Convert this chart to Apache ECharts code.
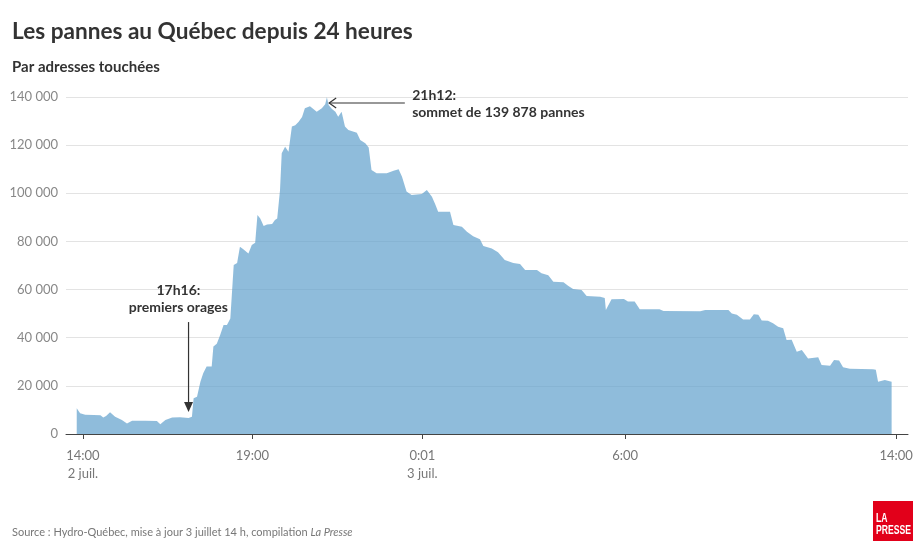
<!DOCTYPE html>
<html><head><meta charset="utf-8">
<script src="https://cdn.jsdelivr.net/npm/echarts@6/dist/echarts.min.js"></script>
<style>html,body{margin:0;padding:0;background:#fff}#c{width:924px;height:552px}</style>
</head><body><div id="c"></div>
<script>
// Time stamps: "day HH:MM" (July 2 / July 3)
const times = [
'2 13:49','2 13:55','2 14:04','2 14:19','2 14:31','2 14:36','2 14:41','2 14:48','2 14:57','2 15:09',
'2 15:18','2 15:27','2 15:50','2 16:11','2 16:17','2 16:26','2 16:38','2 16:52','2 17:07','2 17:13',
'2 17:16','2 17:22','2 17:28','2 17:33','2 17:39','2 17:48','2 17:51','2 17:57','2 18:03','2 18:09',
'2 18:15','2 18:21','2 18:27','2 18:33','2 18:38','2 18:44','2 18:53','2 18:59','2 19:05','2 19:09',
'2 19:14','2 19:20','2 19:26','2 19:35','2 19:40','2 19:44','2 19:49','2 19:52','2 19:58','2 20:04',
'2 20:10','2 20:16','2 20:22','2 20:28','2 20:33','2 20:42','2 20:48','2 20:54','2 21:03','2 21:09',
'2 21:12','2 21:15','2 21:21','2 21:27','2 21:32','2 21:38','2 21:44','2 21:50','2 22:05','2 22:11',
'2 22:20','2 22:26','2 22:31','2 22:40','2 22:58','2 23:10','2 23:19','2 23:25','2 23:33','2 23:42',
'3 00:00','3 00:09','3 00:18','3 00:24','3 00:29','3 00:50','3 00:56','3 01:11','3 01:20','3 01:31',
'3 01:43','3 01:49','3 02:04','3 02:15','3 02:27','3 02:42','3 02:54','3 03:03','3 03:24','3 03:32',
'3 03:44','3 03:53','3 04:11','3 04:19','3 04:28','3 04:43','3 04:52','3 05:16','3 05:24','3 05:26',
'3 05:36','3 05:58','3 06:05','3 06:17','3 06:26','3 07:01','3 07:08','3 08:13','3 08:22','3 09:03',
'3 09:09','3 09:18','3 09:29','3 09:41','3 09:48','3 09:56','3 10:02','3 10:13','3 10:22','3 10:31',
'3 10:40','3 10:46','3 10:55','3 11:04','3 11:13','3 11:24','3 11:42','3 11:48','3 12:03','3 12:10',
'3 12:19','3 12:26','3 12:38','3 13:19','3 13:24','3 13:28','3 13:40','3 13:52'
];
const outages = [
10700,8600,8000,7900,7800,6900,7500,9000,7200,5800,
4400,5500,5500,5400,4000,5800,6900,7000,6600,7200,
14800,15500,21700,25200,28000,28000,36300,37500,41100,45300,
45300,48000,70200,71000,77800,76800,75000,78500,79500,91000,
89500,86400,87000,87200,88900,89500,101400,116600,119300,117300,
127700,128300,129700,131700,135300,136200,135000,133900,135300,137000,
139878,136700,135000,133900,131800,133900,127700,126300,125200,122100,
120800,119000,109700,108300,108300,109400,110000,106900,100700,99300,
99700,101400,98600,95300,92300,92300,86800,86100,84000,82200,
80900,78100,77100,75500,72300,71000,70600,68100,68100,66800,
66000,63300,63000,61600,60200,59800,57300,57000,56500,51500,
56000,56100,55000,55000,51800,51800,51100,51000,51500,51500,
50100,49500,47600,47600,49700,49500,47100,47000,46000,44600,
43900,39000,39200,34200,34900,31400,31900,28700,28400,30700,
30500,27700,27100,26900,26700,21700,22400,21700
];
const xTickTimes = ['2 14:00','2 19:00','3 00:01','3 06:00','3 14:00'];
const xTickLabels = ['14:00\n2 juil.','19:00','0:01\n3 juil.','6:00','14:00'];
const yTicks = [0,20000,40000,60000,80000,100000,120000,140000];
const titleText = 'Les pannes au Québec depuis 24 heures';
const subtitleText = 'Par adresses touchées';
const sourceText = 'Source : Hydro-Québec, mise à jour 3 juillet 14 h, compilation {i|La Presse}';
const stormTime = '2 17:07', stormLabel = '17h16:\npremiers orages';
const peakTime = '2 21:12', peakValue = 139878, peakLabel = '21h12:\nsommet de 139 878 pannes';

// minutes since July 2, 14:00
function toMin(s){const [d,hm]=s.split(' ');const [h,m]=hm.split(':').map(Number);return (Number(d)-2)*1440+h*60+m-840;}
const data = times.map((t,i)=>[toMin(t), outages[i]]);
const xTickVals = xTickTimes.map(toMin);
const fmt = v => String(v).replace(/\B(?=(\d{3})+(?!\d))/g,' ');
const FONT = 'Lato, "Open Sans", sans-serif';

const chart = echarts.init(document.getElementById('c'), null, {renderer:'canvas'});
chart.setOption({
  backgroundColor:'#fff',
  animation:false,
  title:[
    {text:titleText,left:12,top:20,padding:0,textStyle:{fontFamily:FONT,fontWeight:'bold',fontSize:22.6,color:'#333'}},
    {text:subtitleText,left:12,top:60,padding:0,textStyle:{fontFamily:FONT,fontWeight:'bold',fontSize:15,color:'#333'}},
    {text:sourceText,left:12,top:527,padding:0,textStyle:{fontFamily:FONT,fontWeight:'normal',fontSize:11,color:'#777',
      rich:{i:{fontFamily:FONT,fontStyle:'italic',fontSize:11,color:'#777'}}}}
  ],
  grid:{left:66,right:16,top:97,bottom:118},
  xAxis:{
    type:'value', min:-30, max:1461,
    axisLine:{show:true,lineStyle:{color:'#444',width:1}},
    axisTick:{show:true,customValues:xTickVals,length:5,lineStyle:{color:'#444'}},
    axisLabel:{customValues:xTickVals,color:'#777',fontFamily:FONT,fontSize:13,lineHeight:18,margin:13,
      formatter:v=>{const i=xTickVals.indexOf(v);return i>=0?xTickLabels[i]:'';}},
    splitLine:{show:false}
  },
  yAxis:{
    type:'value', min:0, max:140000, interval:20000,
    axisLine:{show:false}, axisTick:{show:false},
    axisLabel:{color:'#888',fontFamily:FONT,fontSize:13,margin:8,formatter:v=>fmt(v)},
    splitLine:{show:true,lineStyle:{color:'#e3e3e3',width:1}}
  },
  series:[{
    type:'line', data:data, showSymbol:false, symbol:'none',
    lineStyle:{width:0},
    areaStyle:{color:'rgb(95,159,204)',opacity:0.7},
    z:2
  }]
});

function px(t,v){return chart.convertToPixel({gridIndex:0},[t,v]);}
const sT = toMin(stormTime);
const sTop = px(sT,46500), sTip = px(sT,9100), sLab = px(169,63350);
const pT = toMin(peakTime);
const pTip = px(pT+4,137500), pStart = px(570,137500), pLab = px(583,144350);
const ah = 10, aw = 4.5;
chart.setOption({graphic:[
  {type:'line',shape:{x1:sTop[0],y1:sTop[1],x2:sTip[0],y2:sTip[1]-ah+1},style:{stroke:'#333',lineWidth:1.2},z:10},
  {type:'polygon',shape:{points:[[sTip[0]-aw,sTip[1]-ah],[sTip[0]+aw,sTip[1]-ah],[sTip[0],sTip[1]]]},style:{fill:'#333'},z:10},
  {type:'text',x:sLab[0],y:sLab[1],style:{text:stormLabel,font:'bold 14px '+FONT,fill:'#333',textAlign:'center',align:'center',textVerticalAlign:'top',verticalAlign:'top',lineHeight:17},z:10},
  {type:'line',shape:{x1:pStart[0],y1:pStart[1],x2:pTip[0],y2:pTip[1]},style:{stroke:'#333',lineWidth:1.2},z:10},
  {type:'polyline',shape:{points:[[pTip[0]+7,pTip[1]-5],[pTip[0],pTip[1]],[pTip[0]+7,pTip[1]+5]]},style:{stroke:'#333',lineWidth:1.2,fill:null},z:10},
  {type:'text',x:pLab[0],y:pLab[1],style:{text:peakLabel,font:'bold 14px '+FONT,fill:'#333',textAlign:'left',align:'left',textVerticalAlign:'top',verticalAlign:'top',lineHeight:17},z:10},
  {type:'rect',shape:{x:873,y:501,width:40,height:40},style:{fill:'#e2001a'},z:10},
  {type:'text',x:876,y:513,scaleX:0.72,scaleY:1,originX:0,originY:0,style:{text:'LA\nPRESSE',font:'bold 12px "Liberation Sans", Arial, sans-serif',fill:'#fff',lineHeight:12,textVerticalAlign:'top',verticalAlign:'top'},z:11}
]});
</script></body></html>
